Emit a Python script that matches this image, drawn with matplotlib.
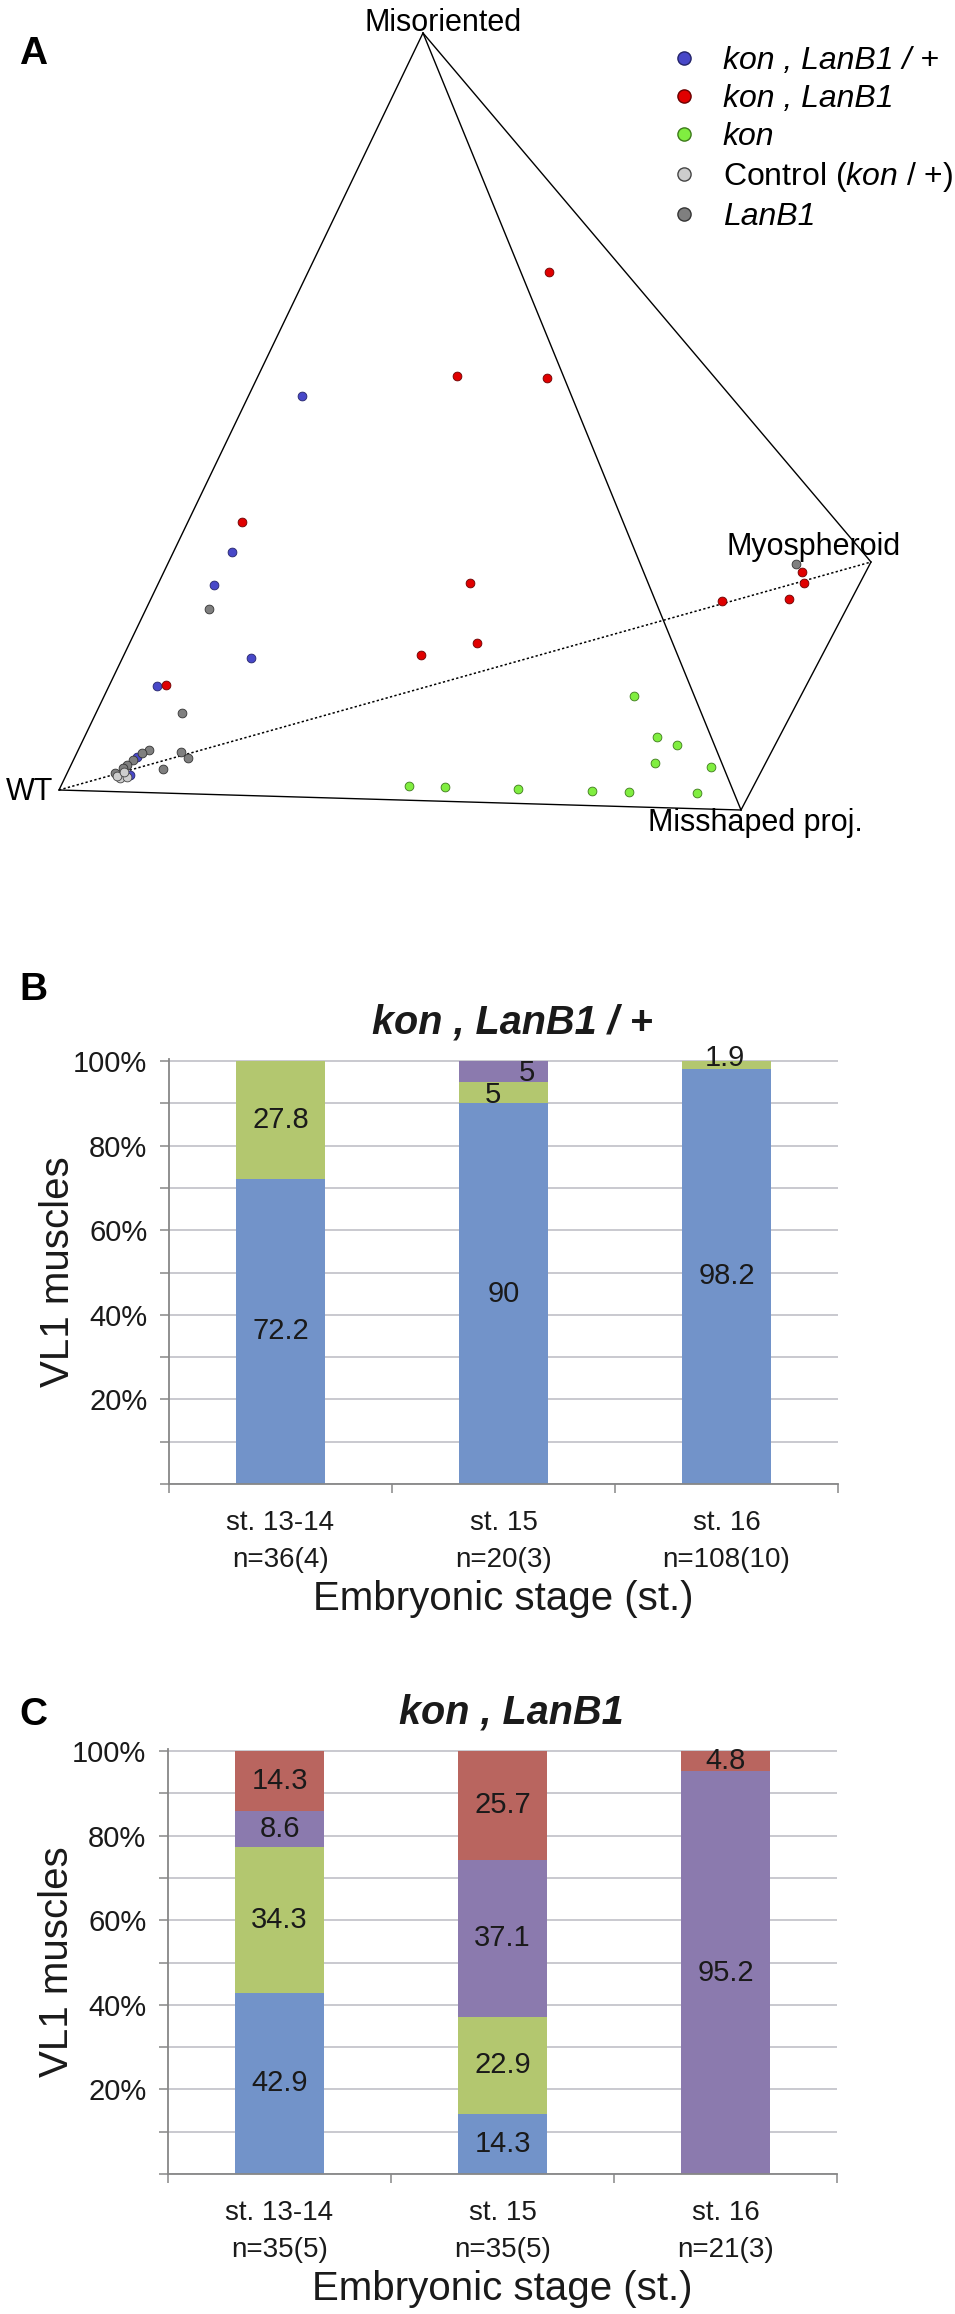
import numpy as np
import matplotlib
matplotlib.use('Agg')
import matplotlib.pyplot as plt
from matplotlib.lines import Line2D

plt.rcParams['font.family'] = ['Liberation Sans', 'DejaVu Sans']
plt.rcParams['mathtext.fontset'] = 'custom'
plt.rcParams['mathtext.rm'] = 'Liberation Sans'
plt.rcParams['mathtext.it'] = 'Liberation Sans:italic'

W, H = 955, 2314

# ---------- panel A: tetrahedron view (projected image-plane positions) ----------
vertex_names = ['WT', 'Misoriented', 'Misshaped proj.', 'Myospheroid']
vertex_x = [59, 423, 741, 871]
vertex_y = [790, 33, 810, 562]

blue_x = [302, 232, 214, 251, 157, 137, 130]
blue_y = [396, 552, 585, 658, 686, 757, 775]

red_x = [549, 457, 547, 242, 166, 470, 477, 421, 722, 789, 802, 804]
red_y = [272, 376, 378, 522, 685, 583, 643, 655, 601, 599, 572, 583]

green_x = [634, 657, 677, 655, 711, 409, 445, 518, 592, 629, 697]
green_y = [696, 737, 745, 763, 767, 786, 787, 789, 791, 792, 793]

ctrl_x = [120, 127, 117, 124]
ctrl_y = [778, 777, 776, 772]

lanb1_x = [209, 182, 149, 142, 133, 127, 181, 188, 163, 123, 115, 796]
lanb1_y = [609, 713, 750, 753, 760, 765, 752, 758, 769, 768, 773, 564]

group_labels = ['kon , LanB1 / +', 'kon , LanB1', 'kon',
                r'Control ($\mathit{kon}$ / +)', 'LanB1']
group_colors = ['#4848C8', '#E00000', '#80EE40', '#CDCDCD', '#7F7F7F']
group_edges = ['#24246a', '#6a0000', '#3d7a1a', '#444444', '#333333']

# ---------- panels B and C: stacked percentages ----------
stages_b = ['st. 13-14\nn=36(4)', 'st. 15\nn=20(3)', 'st. 16\nn=108(10)']
b_blue = [72.2, 90, 98.2]
b_green = [27.8, 5, 1.9]
b_purple = [0, 5, 0]
b_red = [0, 0, 0]

stages_c = ['st. 13-14\nn=35(5)', 'st. 15\nn=35(5)', 'st. 16\nn=21(3)']
c_blue = [42.9, 14.3, 0]
c_green = [34.3, 22.9, 0]
c_purple = [8.6, 37.1, 95.2]
c_red = [14.3, 25.7, 4.8]

bar_colors = ['#7293C9', '#B3C76F', '#8B7AAE', '#B9655F']

fig = plt.figure(figsize=(W / 100, H / 100), dpi=100)


def px_axes(left, top, right, bottom):
    return fig.add_axes([left / W, 1 - bottom / H, (right - left) / W, (bottom - top) / H])


# ---------- A ----------
ax = px_axes(0, 0, W, 860)
ax.set_xlim(0, W)
ax.set_ylim(860, 0)
ax.axis('off')

solid_edges = [(0, 1), (1, 2), (1, 3), (0, 2), (2, 3)]
for i, j in solid_edges:
    ax.plot([vertex_x[i], vertex_x[j]], [vertex_y[i], vertex_y[j]],
            color='black', lw=1.0, zorder=1)
ax.plot([vertex_x[0], vertex_x[3]], [vertex_y[0], vertex_y[3]],
        color='black', lw=1.1, ls=(0, (1.5, 1.5)), zorder=1)

ax.text(vertex_x[0] - 6, vertex_y[0] + 10, vertex_names[0], fontsize=22,
        ha='right', va='baseline')
ax.text(vertex_x[1] + 20, vertex_y[1] - 2, vertex_names[1], fontsize=22,
        ha='center', va='baseline')
ax.text(vertex_x[2] - 93, vertex_y[2] + 21, vertex_names[2], fontsize=22,
        ha='left', va='baseline')
ax.text(vertex_x[3] - 145, vertex_y[3] - 7, vertex_names[3], fontsize=22,
        ha='left', va='baseline')

pts = [(blue_x, blue_y), (red_x, red_y), (green_x, green_y),
       (ctrl_x, ctrl_y), (lanb1_x, lanb1_y)]
order = [0, 4, 3, 2, 1]
for z, k in enumerate(order):
    xs, ys = pts[k]
    ax.scatter(xs, ys, s=40, c=group_colors[k], edgecolors=group_edges[k],
               linewidths=0.6, zorder=3 + z)

handles = [Line2D([], [], ls='none', marker='o', markersize=9.5,
                  markerfacecolor=c, markeredgecolor=e, markeredgewidth=1.0)
           for c, e in zip(group_colors, group_edges)]
leg = ax.legend(handles, group_labels, loc='upper left', bbox_to_anchor=(671, 46),
                bbox_transform=ax.transData, frameon=False, fontsize=23,
                handlelength=0.8, handletextpad=0.82, labelspacing=0.25,
                borderpad=0, borderaxespad=0)
for i, t in enumerate(leg.get_texts()):
    if i != 3:
        t.set_fontstyle('italic')

fig.text(33 / W, 1 - 64 / H, 'A', fontsize=28, fontweight='bold', ha='center', va='baseline')


# ---------- B, C ----------
def stacked_panel(ax, title, stages, series, offsets):
    x = np.arange(len(stages))
    bottom = np.zeros(len(stages))
    for k, (vals, col) in enumerate(zip(series, bar_colors)):
        vals = np.array(vals, dtype=float)
        ax.bar(x, vals, 0.4, bottom=bottom, color=col, linewidth=0, zorder=2)
        for i, v in enumerate(vals):
            if v > 0:
                dx, dy = offsets.get((k, i), (0, 0))
                ax.annotate(f'{v:g}', (x[i], bottom[i] + v / 2), xytext=(dx, dy),
                            textcoords='offset points', ha='center', va='center',
                            fontsize=21, color='#1a1a1a', zorder=4)
        bottom += vals

    ax.set_xlim(-0.5, len(stages) - 0.5)
    ax.set_ylim(0, 100.5)
    ax.set_axisbelow(True)
    for s in ['top', 'right']:
        ax.spines[s].set_visible(False)
    for s in ['left', 'bottom']:
        ax.spines[s].set_color('#878787')
        ax.spines[s].set_linewidth(1.3)

    yt = np.arange(0, 101, 10)
    ax.set_yticks(yt)
    ax.set_yticklabels([f'{t}%' if t % 20 == 0 and t > 0 else '' for t in yt])
    ax.tick_params(axis='y', length=6.5, width=1.1, color='#878787', pad=9,
                   labelsize=21, labelcolor='#1a1a1a')
    ax.yaxis.grid(True, color='#C9C9CF', lw=1.4)

    ax.set_xticks(np.arange(len(stages) + 1) - 0.5)
    ax.set_xticklabels([])
    ax.tick_params(axis='x', which='major', length=6.5, width=1.1, color='#878787')
    ax.set_xticks(x, stages, minor=True)
    ax.tick_params(axis='x', which='minor', length=0, pad=19, labelsize=20,
                   labelcolor='#1a1a1a')
    for t in ax.get_xticklabels(minor=True):
        t.set_linespacing(1.55)

    ax.text(-0.166, 0.5, 'VL1 muscles', transform=ax.transAxes, rotation=90,
            fontsize=29, ha='center', va='center', color='#1a1a1a')
    ax.text(0.5, -0.27, 'Embryonic stage (st.)', transform=ax.transAxes,
            fontsize=29, ha='center', va='center', color='#1a1a1a')
    ax.text(0.513, 1.085, title, transform=ax.transAxes, fontsize=28.5,
            fontweight='bold', fontstyle='italic', ha='center', va='center',
            color='#1a1a1a')


unit = 423 / 100
ax_b = px_axes(169, 1484 - 100.5 * unit, 838, 1484)
stacked_panel(ax_b, 'kon , LanB1 / +', stages_b, [b_blue, b_green, b_purple, b_red],
              {(1, 1): (-7.5, -1.8), (2, 1): (17, -1), (1, 2): (-1, 5)})
fig.text(33 / W, 1 - 1000 / H, 'B', fontsize=28, fontweight='bold', ha='center', va='baseline')

ax_c = px_axes(168, 2174 - 100.5 * unit, 837, 2174)
stacked_panel(ax_c, 'kon , LanB1', stages_c, [c_blue, c_green, c_purple, c_red], {})
fig.text(33 / W, 1 - 1725 / H, 'C', fontsize=28, fontweight='bold', ha='center', va='baseline')

fig.savefig('out.png', dpi=100, facecolor='white')
